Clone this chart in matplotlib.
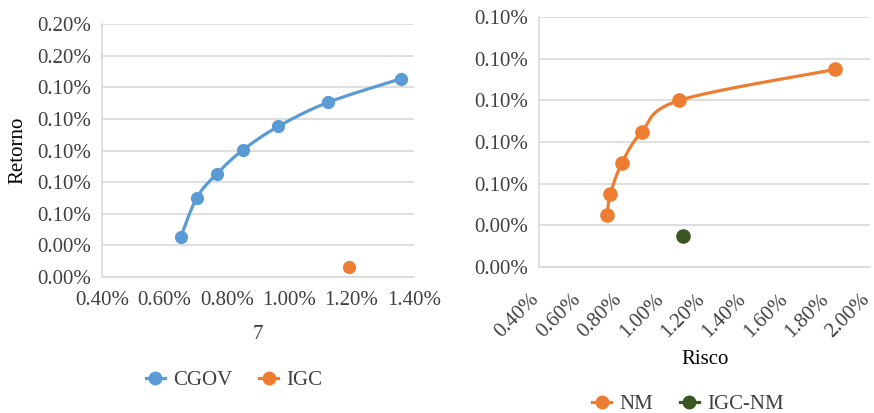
import numpy as np
import matplotlib
matplotlib.use("Agg")
import matplotlib.pyplot as plt
from matplotlib.lines import Line2D
from matplotlib.transforms import ScaledTranslation

plt.rcParams['font.family'] = ['Liberation Serif', 'DejaVu Serif']

# Left panel: CGOV frontier and IGC portfolio (risk %, return %)
cgov_risk = [0.652, 0.704, 0.769, 0.851, 0.965, 1.124, 1.358]
cgov_ret = [0.0314, 0.0627, 0.0818, 0.1003, 0.1190, 0.1380, 0.1567]
igc_risk = [1.192]
igc_ret = [0.0082]
left_xticks = [0.40, 0.60, 0.80, 1.00, 1.20, 1.40]
left_xlabels = ["0.40%", "0.60%", "0.80%", "1.00%", "1.20%", "1.40%"]
left_yticks = [0.0, 0.025, 0.05, 0.075, 0.10, 0.125, 0.15, 0.175, 0.20]
left_ylabels = ["0.00%", "0.00%", "0.10%", "0.10%", "0.10%", "0.10%", "0.10%", "0.20%", "0.20%"]

# Right panel: NM frontier and IGC-NM portfolio
nm_risk = [0.729, 0.7435, 0.799, 0.895, 1.077, 1.831]
nm_ret = [0.0249, 0.0348, 0.0498, 0.0648, 0.0800, 0.0949]
igcnm_risk = [1.097]
igcnm_ret = [0.0148]
right_xticks = [0.40, 0.60, 0.80, 1.00, 1.20, 1.40, 1.60, 1.80, 2.00]
right_xlabels = ["0.40%", "0.60%", "0.80%", "1.00%", "1.20%", "1.40%", "1.60%", "1.80%", "2.00%"]
right_yticks = [0.0, 0.02, 0.04, 0.06, 0.08, 0.10, 0.12]
right_ylabels = ["0.00%", "0.00%", "0.10%", "0.10%", "0.10%", "0.10%", "0.10%"]

BLUE = "#5B9BD5"
ORANGE = "#ED7D31"
GREEN = "#385723"
GRID = "#D9D9D9"
TXT = "#404040"
FS = 15


def smooth_path(ax, xs, ys, n=30):
    """Catmull-Rom curve through the points, computed in display space."""
    pts = ax.transData.transform(np.column_stack([xs, ys]))
    p = np.vstack([pts[0], pts, pts[-1]])
    out = []
    t = np.linspace(0, 1, n)[:, None]
    for i in range(1, len(p) - 2):
        p0, p1, p2, p3 = p[i - 1], p[i], p[i + 1], p[i + 2]
        seg = 0.5 * ((2 * p1) + (-p0 + p2) * t + (2 * p0 - 5 * p1 + 4 * p2 - p3) * t ** 2
                     + (-p0 + 3 * p1 - 3 * p2 + p3) * t ** 3)
        out.append(seg)
    curve = np.vstack(out)
    return ax.transData.inverted().transform(curve)


def style_axes(ax):
    for s in ("top", "right"):
        ax.spines[s].set_visible(False)
    for s in ("left", "bottom"):
        ax.spines[s].set_color(GRID)
        ax.spines[s].set_linewidth(1.2)
    ax.yaxis.grid(True, color=GRID, linewidth=1.2)
    ax.set_axisbelow(True)
    ax.tick_params(length=0, labelsize=FS, colors=TXT)


fig = plt.figure(figsize=(8.74, 4.13), dpi=100)
W, H = 874, 413

# ---- left panel ----
axl = fig.add_axes([102 / W, (H - 277) / H, 312 / W, 253 / H])
style_axes(axl)
axl.set_xlim(0.40, 1.40)
axl.set_ylim(0.0, 0.20)
axl.set_xticks(left_xticks, left_xlabels)
axl.set_yticks(left_yticks, left_ylabels)
axl.tick_params(axis="y", pad=8)
axl.tick_params(axis="x", pad=10)
fig.canvas.draw()
cx, cy = smooth_path(axl, cgov_risk, cgov_ret).T
axl.plot(cx, cy, color=BLUE, lw=2.3, solid_capstyle="round", zorder=3)
axl.plot(cgov_risk, cgov_ret, "o", color=BLUE, ms=8.5, zorder=4)
axl.plot(igc_risk, igc_ret, "o", color=ORANGE, ms=8.5, zorder=4)
axl.set_ylabel("Retorno", fontsize=FS, color="black", labelpad=7)
axl.set_xlabel("7", fontsize=FS, color=TXT, labelpad=11)

# ---- right panel ----
axr = fig.add_axes([539.3 / W, (H - 266.7) / H, 330.7 / W, 249.4 / H])
style_axes(axr)
axr.set_xlim(0.40, 2.00)
axr.set_ylim(0.0, 0.12)
axr.set_xticks(right_xticks, right_xlabels)
axr.set_yticks(right_yticks, right_ylabels)
axr.tick_params(axis="y", pad=8)
axr.tick_params(axis="x", pad=17)
shift = ScaledTranslation(4 / 100, 0, fig.dpi_scale_trans)
for lab in axr.get_xticklabels():
    lab.set_rotation(45)
    lab.set_ha("right")
    lab.set_va("top")
    lab.set_transform(lab.get_transform() + shift)
fig.canvas.draw()
nx, ny = smooth_path(axr, nm_risk, nm_ret).T
axr.plot(nx, ny, color=ORANGE, lw=2.3, solid_capstyle="round", zorder=3)
axr.plot(nm_risk, nm_ret, "o", color=ORANGE, ms=9.5, zorder=4)
axr.plot(igcnm_risk, igcnm_ret, "o", color=GREEN, ms=9.5, zorder=4)
axr.set_xlabel("Risco", fontsize=FS, color="black", labelpad=6)

# ---- legends ----
def handle(c):
    return Line2D([], [], color=c, lw=2.3, marker="o", ms=9)

fig.legend([handle(BLUE), handle(ORANGE)], ["CGOV", "IGC"],
           loc="center", bbox_to_anchor=(234 / W, 1 - 380 / H), ncol=2,
           frameon=False, fontsize=FS, handlelength=0.9, handletextpad=0.4,
           columnspacing=1.3, labelcolor=TXT)
fig.legend([handle(ORANGE), handle(GREEN)], ["NM", "IGC-NM"],
           loc="center", bbox_to_anchor=(688 / W, 1 - 404 / H), ncol=2,
           frameon=False, fontsize=FS, handlelength=0.9, handletextpad=0.4,
           columnspacing=1.3, labelcolor=TXT)

fig.savefig("out.png", dpi=100)
